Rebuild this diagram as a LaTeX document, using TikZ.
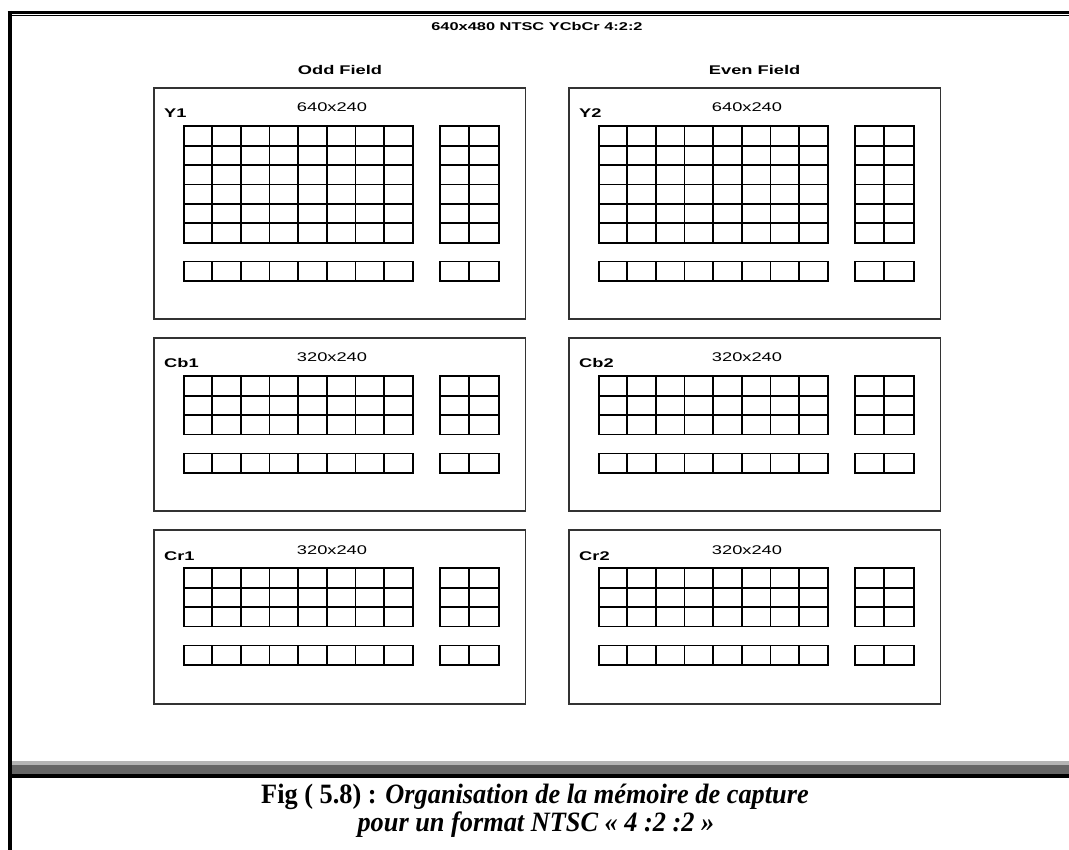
\documentclass[tikz,border=0pt]{standalone}
\usepackage{fontspec}
\newfontfamily\dfont[FakeStretch=1.45]{Liberation Sans}
\newfontfamily\cfont[FakeStretch=0.94]{Liberation Serif}
\definecolor{boxgray}{HTML}{333333}
\definecolor{bandlight}{HTML}{B4B4B4}
\definecolor{banddark}{HTML}{666666}
\tikzset{
  boxline/.style={draw=boxgray, line width=1.5pt},
  gridline/.style={draw=black, line width=1.8pt},
  lab/.style={inner sep=0pt, font=\dfont\fontsize{12.6}{15}\selectfont},
  blab/.style={inner sep=0pt, font=\dfont\bfseries\fontsize{12.6}{15}\selectfont},
  captext/.style={inner sep=0pt, text height=19pt, text depth=4pt, font=\cfont\fontsize{28}{31}\selectfont},
}
% bx, by, height, rows, name, size
\newcommand\drawpanel[6]{%
  \draw[boxline] (#1,#2) rectangle ({#1+371.3},{#2+#3});
  \pgfmathsetmacro\pgt{#2+38.3}
  \pgfmathsetmacro\pgb{#2+38.3+#4*19.4}
  \pgfmathsetmacro\pst{\pgb+18.9}
  \pgfmathsetmacro\psb{\pst+19.8}
  \pgfmathsetmacro\pgl{#1+29.7}
  \pgfmathsetmacro\pgr{#1+258.7}
  \pgfmathsetmacro\prl{#1+285.7}
  \pgfmathsetmacro\prr{#1+345}
  \foreach \k in {1,...,#4} {
    \draw[gridline] (\pgl,{\pgt+\k*19.4}) -- (\pgr,{\pgt+\k*19.4});
    \draw[gridline] (\prl,{\pgt+\k*19.4}) -- (\prr,{\pgt+\k*19.4});
  }
  \foreach \c in {1,...,7} {
    \draw[gridline] ({\pgl+\c*28.625},\pgt) -- ({\pgl+\c*28.625},\pgb);
    \draw[gridline] ({\pgl+\c*28.625},\pst) -- ({\pgl+\c*28.625},\psb);
  }
  \draw[gridline] ({\prl+29.65},\pgt) -- ({\prl+29.65},\pgb);
  \draw[gridline] ({\prl+29.65},\pst) -- ({\prl+29.65},\psb);
  \draw[gridline] (\pgl,\pgt) rectangle (\pgr,\pgb);
  \draw[gridline] (\prl,\pgt) rectangle (\prr,\pgb);
  \draw[gridline] (\pgl,\pst) rectangle (\pgr,\psb);
  \draw[gridline] (\prl,\pst) rectangle (\prr,\psb);
  \node[blab, anchor=base west] (name-#5) at ({#1+10},{#2+30}) {#5};
  \node[lab, anchor=base] (size-#5) at ({#1+178},{#2+24}) {#6};
}
\begin{document}
\begin{tikzpicture}[x=1pt, y=-1pt]
\useasboundingbox (0,0) rectangle (1069,850);
\fill[white] (0,0) rectangle (1069,850);
% frame
\draw[line width=4pt] (9.5,10.9) -- (9.5,850);
\draw[line width=2.7pt] (7.5,12.3) -- (1069,12.3);
\draw[line width=1.3pt] (11.5,15.3) -- (1069,15.3);
\fill[bandlight] (11.5,761) rectangle (1069,765);
\fill[banddark] (11.5,765) rectangle (1069,774);
\fill[black] (11.5,774) rectangle (1069,777.5);
% titles
\node[blab, font=\dfont\bfseries\fontsize{11.3}{14}\selectfont, anchor=base] (title) at (537,30.5) {640x480 NTSC YCbCr 4:2:2};
\node[blab, anchor=base] (odd) at (340,75) {Odd Field};
\node[blab, anchor=base] (even) at (754.6,75) {Even Field};
% panels
\drawpanel{154}{88}{231}{6}{Y1}{640x240}
\drawpanel{569}{88}{231}{6}{Y2}{640x240}
\drawpanel{154}{338}{173}{3}{Cb1}{320x240}
\drawpanel{569}{338}{173}{3}{Cb2}{320x240}
\drawpanel{154}{530}{174}{3}{Cr1}{320x240}
\drawpanel{569}{530}{174}{3}{Cr2}{320x240}
% caption
\node[captext, anchor=base] (cap1) at (535,803) {\textbf{Fig ( 5.8) :} \textbf{\textit{Organisation de la mémoire de capture}}};
\node[captext, anchor=base] (cap2) at (536,831) {\textbf{\textit{pour un format NTSC « 4 :2 :2 »}}};
\end{tikzpicture}
\end{document}
